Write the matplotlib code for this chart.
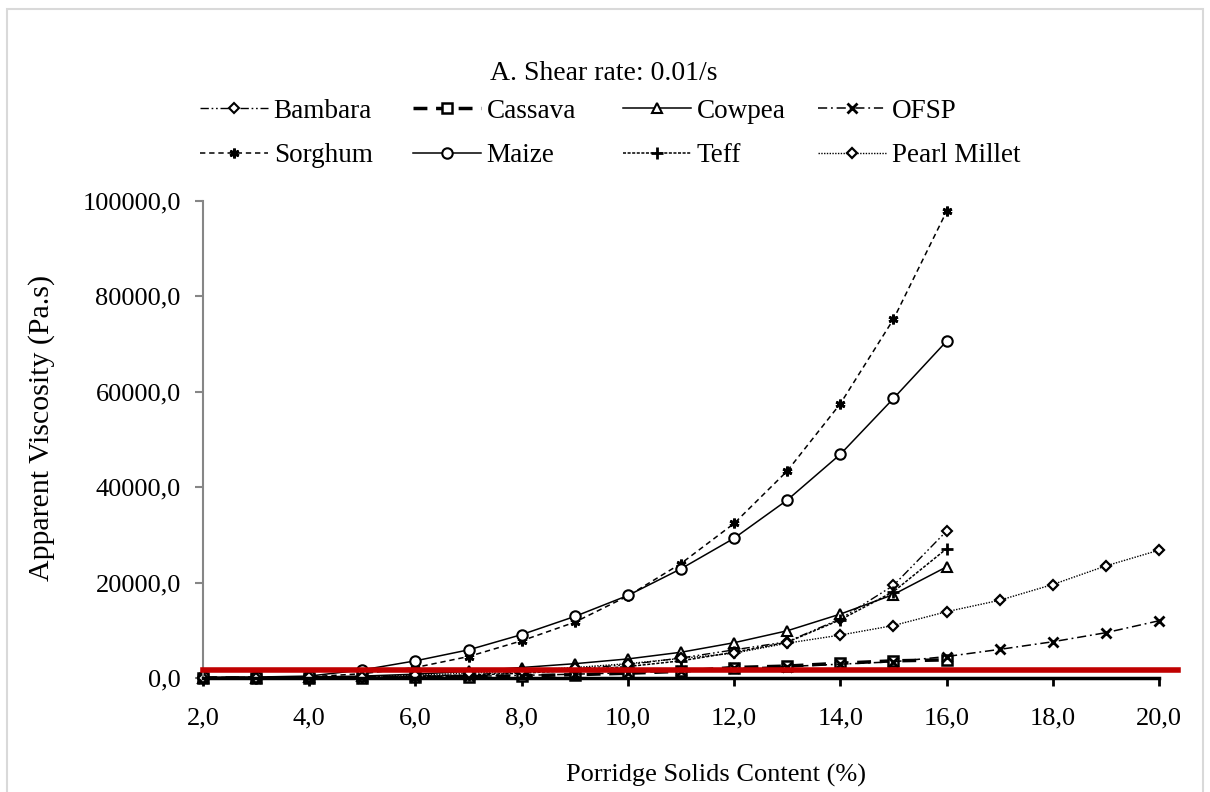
import matplotlib
matplotlib.use("Agg")
import matplotlib.pyplot as plt
from matplotlib.patches import Rectangle
from matplotlib.ticker import FuncFormatter, MultipleLocator

plt.rcParams['font.family'] = ['Liberation Serif', 'DejaVu Serif']

title = "A. Shear rate: 0.01/s"
x_label = "Porridge Solids Content (%)"
y_label = "Apparent Viscosity (Pa.s)"

solids_16 = [2, 3, 4, 5, 6, 7, 8, 9, 10, 11, 12, 13, 14, 15, 16]
solids_20 = [2, 3, 4, 5, 6, 7, 8, 9, 10, 11, 12, 13, 14, 15, 16, 17, 18, 19, 20]

bambara = [30, 60, 100, 200, 400, 700, 1200, 1900, 2800, 4200, 5900, 7600, 12400, 19400, 30800]
cassava = [10, 20, 40, 80, 150, 300, 450, 700, 1000, 1400, 2200, 2500, 3100, 3600, 3800]
cowpea = [50, 100, 200, 400, 800, 1400, 2200, 3000, 4000, 5400, 7400, 9900, 13400, 17500, 23300]
ofsp = [10, 20, 50, 100, 200, 350, 550, 800, 1100, 1500, 2000, 2400, 2900, 3400, 4500,
        6000, 7600, 9500, 12000]
sorghum = [100, 150, 250, 900, 2200, 4500, 7800, 11700, 17200, 24000, 32400, 43400, 57500,
           75200, 97800]
maize = [150, 200, 400, 1700, 3600, 5900, 9100, 12900, 17300, 22900, 29300, 37300, 46900,
         58600, 70600]
teff = [20, 50, 100, 150, 300, 600, 1000, 1600, 2400, 3600, 5400, 7500, 12200, 18100, 27100]
pearl_millet = [50, 80, 150, 300, 600, 1000, 1500, 2200, 3000, 4100, 5200, 7300, 9000, 11000,
                13900, 16300, 19600, 23500, 26800]

threshold = 1700
threshold_x = [2, 20.36]

fig = plt.figure(figsize=(12.1, 7.92), dpi=100)
ax = fig.add_axes([203/1210, 1-678/792, (1159-203)/1210, (678-201)/792])

mk = dict(markerfacecolor='white', markeredgecolor='black', color='black', clip_on=False)

series = [
    ("Bambara", solids_16, bambara, dict(ls=(0, (6, 2, 1.2, 2, 1.2, 2)), lw=1.0, marker='D', ms=5, mew=1.5)),
    ("Cassava", solids_16, cassava, dict(ls=(0, (4, 2.5)), lw=2.5, marker='s', ms=7, mew=1.8)),
    ("Cowpea", solids_16, cowpea, dict(ls='-', lw=1.1, marker='^', ms=7.5, mew=1.5)),
    ("OFSP", solids_20, ofsp, dict(ls=(0, (6, 2.5, 1.2, 2.5)), lw=1.1, marker='x', ms=7, mew=2.0)),
    ("Sorghum", solids_16, sorghum, dict(ls=(0, (3.5, 2.5)), lw=1.1, marker=(6, 2, 0), ms=7, mew=2.0)),
    ("Maize", solids_16, maize, dict(ls='-', lw=1.1, marker='o', ms=7.5, mew=1.5)),
    ("Teff", solids_16, teff, dict(ls=(0, (2, 1)), lw=1.1, marker='+', ms=8, mew=2.0)),
    ("Pearl Millet", solids_20, pearl_millet, dict(ls=(0, (1, 1)), lw=1.0, marker='D', ms=5.5, mew=1.6)),
]

handles = {}
for name, xs, ys, style in series:
    h, = ax.plot(xs, ys, label=name, **mk, **style)
    handles[name] = h

ax.plot(threshold_x, [threshold, threshold], color='#c00000', lw=4, clip_on=False, zorder=5)

ax.set_xlim(2, 20)
ax.set_ylim(0, 100000)
ax.xaxis.set_major_locator(MultipleLocator(2))
ax.yaxis.set_major_locator(MultipleLocator(20000))
fmt = FuncFormatter(lambda v, p: f"{v:.1f}".replace('.', ','))
ax.xaxis.set_major_formatter(fmt)
ax.yaxis.set_major_formatter(fmt)

for s in ['top', 'right']:
    ax.spines[s].set_visible(False)
ax.spines['left'].set_color('#868686')
ax.spines['left'].set_linewidth(1.5)
ax.spines['bottom'].set_color('black')
ax.spines['bottom'].set_linewidth(2.5)
ax.tick_params(axis='x', direction='out', length=6, width=2, colors='black', labelsize=19, pad=15)
ax.tick_params(axis='y', direction='out', length=6, width=1.5, color='#868686', labelcolor='black', labelsize=19, pad=10)

fig.text(604/1210, 1-74/792, title, ha='center', va='center', fontsize=20)
fig.text(716/1210, 1-775/792, x_label, ha='center', va='center', fontsize=19)
fig.text(42/1210, 1-428/792, y_label, ha='center', va='center', rotation=90, fontsize=21.5)

legend_columns = [["Bambara", "Sorghum"], ["Cassava", "Maize"], ["Cowpea", "Teff"], ["OFSP", "Pearl Millet"]]
legend_text_x = [274, 487, 697, 892]
for names, tx in zip(legend_columns, legend_text_x):
    fig.legend(handles=[handles[n] for n in names], loc='center left',
               bbox_to_anchor=((tx - 74)/1210, 1-133.5/792), frameon=False, fontsize=19.5,
               handlelength=2.5, handletextpad=0.22, labelspacing=0.73,
               borderaxespad=0, borderpad=0)

fig.patches.append(Rectangle((7/1210, -0.01), (1203-7)/1210, 1-9/792 + 0.01,
                             transform=fig.transFigure, fill=False, edgecolor='#d9d9d9', lw=1.5))

fig.savefig("out.png", dpi=100)
